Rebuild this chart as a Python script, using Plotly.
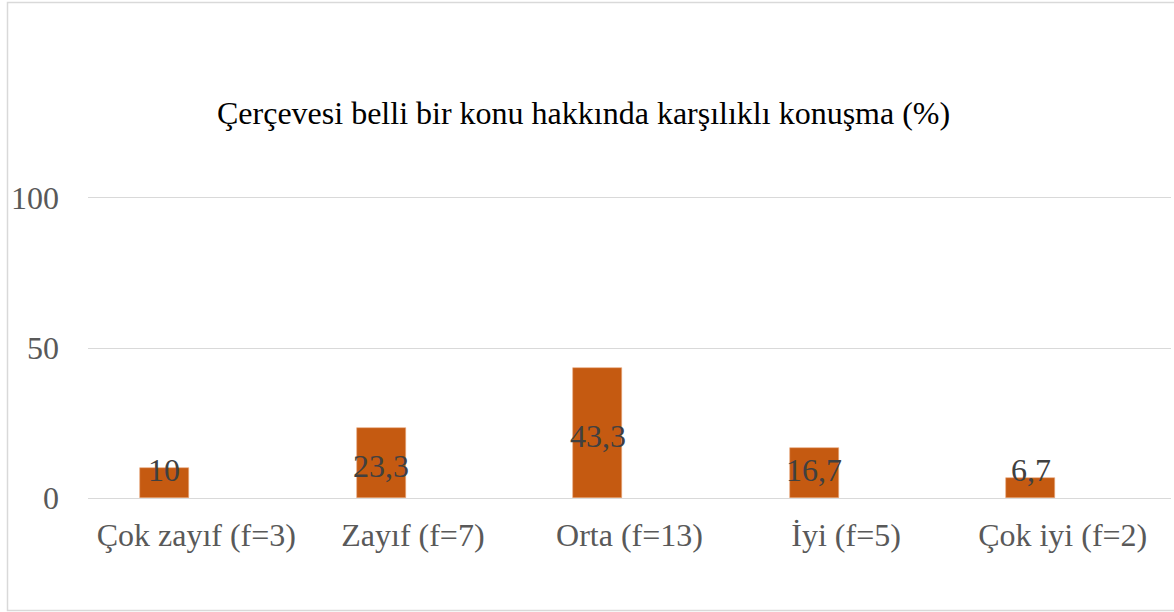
import plotly.graph_objects as go

# Chart data
categories = ["Çok zayıf (f=3)", "Zayıf (f=7)", "Orta (f=13)", "İyi (f=5)", "Çok iyi (f=2)"]
percentages = [10, 23.3, 43.3, 16.7, 6.7]
label_text = ["10", "23,3", "43,3", "16,7", "6,7"]
y_ticks = [0, 50, 100]

# Vertical placement of the value labels (data units)
label_y = [9.4, 10.8, 20.8, 9.4, 9.4]

W, H = 1174, 612
M_L, M_R, M_T, M_B = 88, 3, 198, 114
plot_w = W - M_L - M_R
plot_h = H - M_T - M_B

SERIF = "Liberation Serif"
BAR_COLOR = "#C55A11"
GRID = "#D9D9D9"

x_idx = list(range(len(categories)))
bar_offset = -0.26
bar_width = 0.226

fig = go.Figure()
fig.add_trace(go.Bar(
    x=x_idx,
    y=percentages,
    width=bar_width,
    offset=bar_offset,
    marker=dict(color=BAR_COLOR, line=dict(color="#E8A77C", width=0.6)),
    hoverinfo="skip",
    showlegend=False,
))

# Value labels centred on each bar
for i, (txt, ly) in enumerate(zip(label_text, label_y)):
    fig.add_annotation(
        x=i + bar_offset + bar_width / 2, y=ly, xref="x", yref="y",
        text=txt, showarrow=False,
        font=dict(family=SERIF, size=32, color="#404040"),
        xanchor="center", yanchor="middle",
    )

# Chart title
fig.add_annotation(
    x=(583 - M_L) / plot_w, y=(H - 113 - M_B) / plot_h, xref="paper", yref="paper",
    text="Çerçevesi belli bir konu hakkında karşılıklı konuşma (%)",
    showarrow=False, xanchor="center", yanchor="middle",
    font=dict(family=SERIF, size=32, color="#000000"),
)

# Outer chart frame
fig.add_shape(
    type="rect", xref="paper", yref="paper",
    x0=(7.5 - M_L) / plot_w, x1=(W + 4 - M_L) / plot_w,
    y0=(H - 610.5 - M_B) / plot_h, y1=(H - 2.5 - M_B) / plot_h,
    line=dict(color=GRID, width=1.5), fillcolor="rgba(0,0,0,0)",
    layer="below",
)

fig.update_layout(
    width=W, height=H,
    margin=dict(l=M_L, r=M_R, t=M_T, b=M_B, pad=0),
    paper_bgcolor="white", plot_bgcolor="white",
    bargap=0,
    font=dict(family=SERIF),
    xaxis=dict(
        range=[-0.5, len(categories) - 0.5],
        tickmode="array", tickvals=x_idx, ticktext=categories,
        showgrid=False, zeroline=False, ticks="",
        showline=True, linecolor=GRID, linewidth=1.3, mirror=True,
        tickfont=dict(family=SERIF, size=32, color="#595959"),
        ticklabelstandoff=8,
    ),
    yaxis=dict(
        range=[0, 100],
        tickmode="array", tickvals=y_ticks, ticktext=[str(v) for v in y_ticks],
        showgrid=True, gridcolor=GRID, gridwidth=1.3,
        zeroline=False, showline=False, ticks="",
        tickfont=dict(family=SERIF, size=32, color="#595959"),
        ticklabelstandoff=28,
    ),
)

fig.write_html("out.html")
